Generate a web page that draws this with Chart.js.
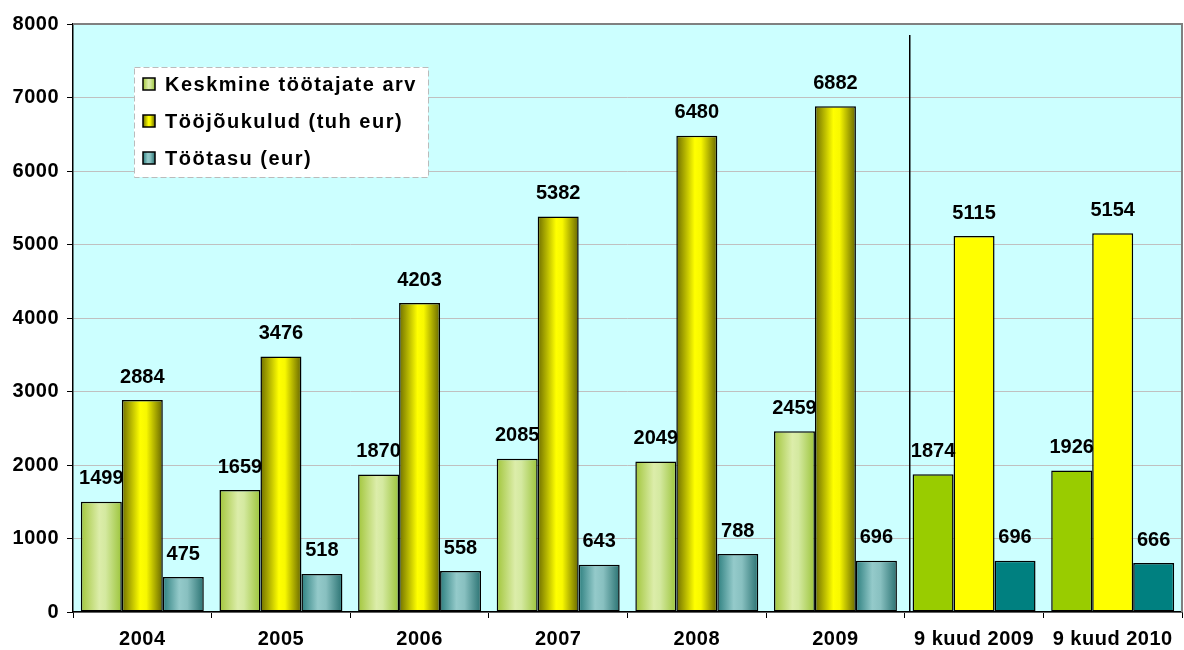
<!DOCTYPE html>
<html>
<head>
<meta charset="utf-8">
<script src="https://cdn.jsdelivr.net/npm/chart.js@4/dist/chart.umd.min.js"></script>
<style>
  html, body { margin: 0; padding: 0; background: #fff; }
  #wrap { width: 1184px; height: 650px; position: relative; }
</style>
</head>
<body>
<div id="wrap"><canvas id="c"></canvas></div>
<script>
// Categories and series
const categories = ['2004', '2005', '2006', '2007', '2008', '2009', '9 kuud 2009', '9 kuud 2010'];
const seriesNames = ['Keskmine töötajate arv', 'Tööjõukulud (tuh eur)', 'Töötasu (eur)'];
const workers = [1499, 1659, 1870, 2085, 2049, 2459, 1874, 1926];
const laborCost = [2884, 3476, 4203, 5382, 6480, 6882, 5115, 5154];
const wage = [475, 518, 558, 643, 788, 696, 696, 666];
const yTicks = [0, 1000, 2000, 3000, 4000, 5000, 6000, 7000, 8000];

const FONT = '"Liberation Sans", Arial, sans-serif';
const CAT_PCT = 0.887;

// solid colours for the 9-month bars, gradients for the yearly ones
const solid = ['#99cc00', '#ffff00', '#008080'];
const gradStops = [
    [[0, '#a2c63c'], [0.45, '#dcedaa'], [0.6, '#d4e9a0'], [1, '#9cc43a']],
    [[0, '#6e6e00'], [0.45, '#ffff00'], [0.6, '#f8f800'], [1, '#666600']],
    [[0, '#2d7f7f'], [0.4, '#94caca'], [0.6, '#88c0c0'], [1, '#2a7272']]
];

function barFill(c) {
    const chart = c.chart, i = c.datasetIndex, j = c.dataIndex;
    if (j >= 6 || !chart.chartArea || !chart.scales.x) return solid[i];
    const xs = chart.scales.x;
    const catW = xs.width / categories.length;
    const groupW = catW * CAT_PCT;
    const barW = groupW / 3;
    const left = xs.getPixelForValue(j) - groupW / 2 + i * barW;
    const g = chart.ctx.createLinearGradient(left, 0, left + barW, 0);
    gradStops[i].forEach(([o, col]) => g.addColorStop(o, col));
    return g;
}

const extras = {
    id: 'extras',
    beforeDraw(chart) {
        const { ctx, chartArea: a } = chart;
        ctx.save();
        ctx.fillStyle = '#ccffff';
        ctx.fillRect(a.left, a.top, a.right - a.left, a.bottom - a.top);
        ctx.restore();
        // axis labels are drawn a bit wider, like the original
        ctx.letterSpacing = '0.5px';
    },
    afterDatasetsDraw(chart) {
        const { ctx, chartArea: a, scales } = chart;
        ctx.save();
        // gray frame on top and right
        ctx.strokeStyle = '#808080';
        ctx.lineWidth = 2;
        ctx.beginPath();
        ctx.moveTo(a.left, a.top);
        ctx.lineTo(a.right, a.top);
        ctx.lineTo(a.right, a.bottom);
        ctx.stroke();

        // separator between yearly and 9-month data
        const xSep = (scales.x.getPixelForValue(5) + scales.x.getPixelForValue(6)) / 2 + 5;
        ctx.strokeStyle = '#000';
        ctx.lineWidth = 1.5;
        ctx.beginPath();
        ctx.moveTo(xSep, a.top + 11);
        ctx.lineTo(xSep, a.bottom);
        ctx.stroke();

        // value labels
        ctx.fillStyle = '#000';
        ctx.font = 'bold 20px ' + FONT;
        ctx.letterSpacing = '0px';
        ctx.textAlign = 'center';
        ctx.textBaseline = 'middle';
        chart.data.datasets.forEach((ds, di) => {
            chart.getDatasetMeta(di).data.forEach((el, k) => {
                ctx.fillText(String(ds.data[k]), el.x, el.y - 23);
            });
        });

        // legend box
        const lx = 134, ly = 67, lw = 294, lh = 110;
        ctx.fillStyle = '#fff';
        ctx.fillRect(lx, ly, lw, lh);
        ctx.setLineDash([6, 3]);
        ctx.strokeStyle = '#bbbbbb';
        ctx.lineWidth = 1;
        ctx.strokeRect(lx + 0.5, ly + 0.5, lw, lh);
        ctx.setLineDash([]);
        ctx.textAlign = 'left';
        ctx.font = 'bold 20px ' + FONT;
        ctx.letterSpacing = '1.5px';
        chart.data.datasets.forEach((ds, di) => {
            const cy = ly + 17 + di * 37;
            const mx = lx + 9;
            const g = ctx.createLinearGradient(mx, 0, mx + 12, 0);
            gradStops[di].forEach(([o, col]) => g.addColorStop(o, col));
            ctx.fillStyle = g;
            ctx.fillRect(mx, cy - 6, 12, 12);
            ctx.strokeStyle = '#000';
            ctx.lineWidth = 1.5;
            ctx.strokeRect(mx, cy - 6, 12, 12);
            ctx.fillStyle = '#000';
            ctx.fillText(ds.label, lx + 31, cy + 1);
        });
        ctx.restore();
        ctx.letterSpacing = '0px';
    }
};

new Chart(document.getElementById('c'), {
    type: 'bar',
    data: {
        labels: categories,
        datasets: [
            { label: seriesNames[0], data: workers },
            { label: seriesNames[1], data: laborCost },
            { label: seriesNames[2], data: wage }
        ].map(d => Object.assign(d, {
            backgroundColor: barFill,
            borderColor: '#000',
            borderWidth: 1.5,
            borderSkipped: false,
            categoryPercentage: CAT_PCT,
            barPercentage: 1
        }))
    },
    options: {
        responsive: true,
        maintainAspectRatio: false,
        animation: false,
        layout: { padding: { top: 24, right: 2, left: 0, bottom: 0 } },
        plugins: {
            legend: { display: false },
            tooltip: { enabled: false }
        },
        scales: {
            x: {
                grid: {
                    offset: true,
                    drawOnChartArea: false,
                    color: '#000',
                    tickLength: 6
                },
                border: { color: '#000', width: 1.5 },
                ticks: {
                    color: '#000',
                    font: { family: FONT, size: 20, weight: 'bold' },
                    padding: 9,
                    maxRotation: 0
                },
                afterFit(s) { s.height = 38; }
            },
            y: {
                min: 0,
                max: 8000,
                afterBuildTicks(s) { s.ticks = yTicks.map(v => ({ value: v })); },
                grid: {
                    color: '#c0c0c0',
                    tickColor: '#000',
                    tickLength: 6
                },
                border: { color: '#000', width: 1.5 },
                ticks: {
                    color: '#000',
                    font: { family: FONT, size: 20, weight: 'bold' },
                    padding: 8,
                    callback: v => String(v)
                },
                afterFit(s) { s.width = 73; }
            }
        }
    },
    plugins: [extras]
});
</script>
</body>
</html>
